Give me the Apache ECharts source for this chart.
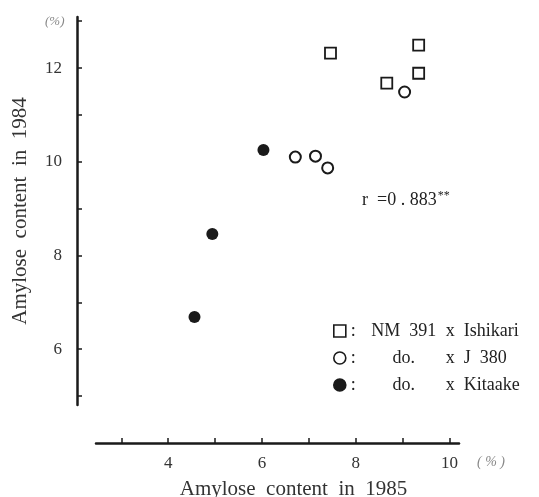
<!DOCTYPE html>
<html>
<head>
<meta charset="utf-8">
<script src="https://cdn.jsdelivr.net/npm/echarts@6/dist/echarts.min.js"></script>
<style>
  html, body { margin: 0; padding: 0; background: #fff; }
  #chart { width: 539px; height: 497px; }
</style>
</head>
<body>
<div id="chart"></div>
<script>
// amylose content (%) 1985 vs 1984
var ishikariX = [7.46, 9.34, 9.34, 8.66];
var ishikariY = [12.32, 12.49, 11.89, 11.68];
var j380X = [9.04, 6.71, 7.14, 7.40];
var j380Y = [11.49, 10.10, 10.12, 9.87];
var kitaakeX = [6.03, 4.94, 4.56];
var kitaakeY = [10.25, 8.46, 6.69];

var seriesNames = ["NM  391 x Ishikari", "do. x J  380", "do. x Kitaake"];
var xTicks = [3, 4, 5, 6, 7, 8, 9, 10];
var xLabels = [4, 6, 8, 10];
var yTicks = [5, 6, 7, 8, 9, 10, 11, 12, 13];
var yLabels = [6, 8, 10, 12];

function pairs(xs, ys) {
  return xs.map(function(x, i) { return [x, ys[i]]; });
}

var font = "Liberation Serif";
var ink = "#1a1a1a";

var myChart = echarts.init(document.getElementById("chart"));
var option = {
  backgroundColor: "#fff",
  animation: false,
  grid: { left: 96, right: 80, top: 17, bottom: 92, outerBoundsMode: "none" },
  xAxis: {
    type: "value",
    min: 2.46,
    max: 10.2,
    offset: 38,
    name: "Amylose  content  in  1985",
    nameLocation: "middle",
    nameGap: 36,
    nameTextStyle: { fontFamily: font, fontSize: 21, color: "#333", padding: [0, 0, 0, 32] },
    axisLine: { onZero: false, lineStyle: { color: ink, width: 2.5 } },
    axisTick: { inside: true, length: 5, customValues: xTicks, lineStyle: { color: ink, width: 1.5 } },
    axisLabel: { customValues: xLabels, margin: 12, fontFamily: font, fontSize: 17, color: "#333" },
    splitLine: { show: false }
  },
  yAxis: {
    type: "value",
    min: 4.81,
    max: 13.09,
    offset: 19,
    name: "Amylose  content  in  1984",
    nameLocation: "middle",
    nameGap: 46,
    nameTextStyle: { fontFamily: font, fontSize: 21, color: "#333" },
    axisLine: { onZero: false, lineStyle: { color: ink, width: 2.5 } },
    axisTick: { inside: true, length: 5, customValues: yTicks, lineStyle: { color: ink, width: 1.5 } },
    axisLabel: { customValues: yLabels, margin: 15, fontFamily: font, fontSize: 17, color: "#333" },
    splitLine: { show: false }
  },
  legend: {
    orient: "vertical",
    left: 328,
    top: 317,
    itemWidth: 12,
    itemHeight: 12,
    itemGap: 9,
    itemStyle: { borderWidth: 1.6 },
    data: seriesNames,
    formatter: function(name) {
      var p = name.split(" x ");
      return "{c|:}{a|" + p[0] + "}{b|x  " + p[1] + "}";
    },
    textStyle: {
      fontFamily: font,
      fontSize: 18,
      color: "#222",
      rich: {
        c: { width: 11, fontFamily: font, fontSize: 18, color: "#222" },
        a: { width: 84, align: "center", fontFamily: font, fontSize: 18, color: "#222" },
        b: { fontFamily: font, fontSize: 18, color: "#222" }
      }
    }
  },
  graphic: [
    { type: "text", left: 45, top: 15, style: { text: "(%)", fontFamily: font, fontSize: 13, fontStyle: "italic", fill: "#888" } },
    { type: "text", left: 477, top: 455, style: { text: "( % )", fontFamily: font, fontSize: 14, fontStyle: "italic", fill: "#888" } },
    {
      type: "text", left: 362, top: 190,
      style: {
        text: "r  ={n|0 . 883}{s|**}",
        fontFamily: font, fontSize: 18, fill: "#222",
        rich: {
          n: { fontFamily: font, fontSize: 18, fill: "#222" },
          s: { fontFamily: font, fontSize: 12, fill: "#222", verticalAlign: "top", padding: [0, 0, 8, 1] }
        }
      }
    }
  ],
  series: [
    {
      name: seriesNames[0],
      type: "scatter",
      symbol: "rect",
      symbolSize: 11,
      data: pairs(ishikariX, ishikariY),
      itemStyle: { color: "#fff", borderColor: ink, borderWidth: 1.8, opacity: 1 }
    },
    {
      name: seriesNames[1],
      type: "scatter",
      symbol: "circle",
      symbolSize: 11,
      data: pairs(j380X, j380Y),
      itemStyle: { color: "#fff", borderColor: ink, borderWidth: 2, opacity: 1 }
    },
    {
      name: seriesNames[2],
      type: "scatter",
      symbol: "circle",
      symbolSize: 12,
      data: pairs(kitaakeX, kitaakeY),
      itemStyle: { color: ink, borderColor: ink, borderWidth: 0, opacity: 1 }
    }
  ]
};
myChart.setOption(option);
window.addEventListener("resize", function() {
  myChart.resize();
});
</script>
</body>
</html>
